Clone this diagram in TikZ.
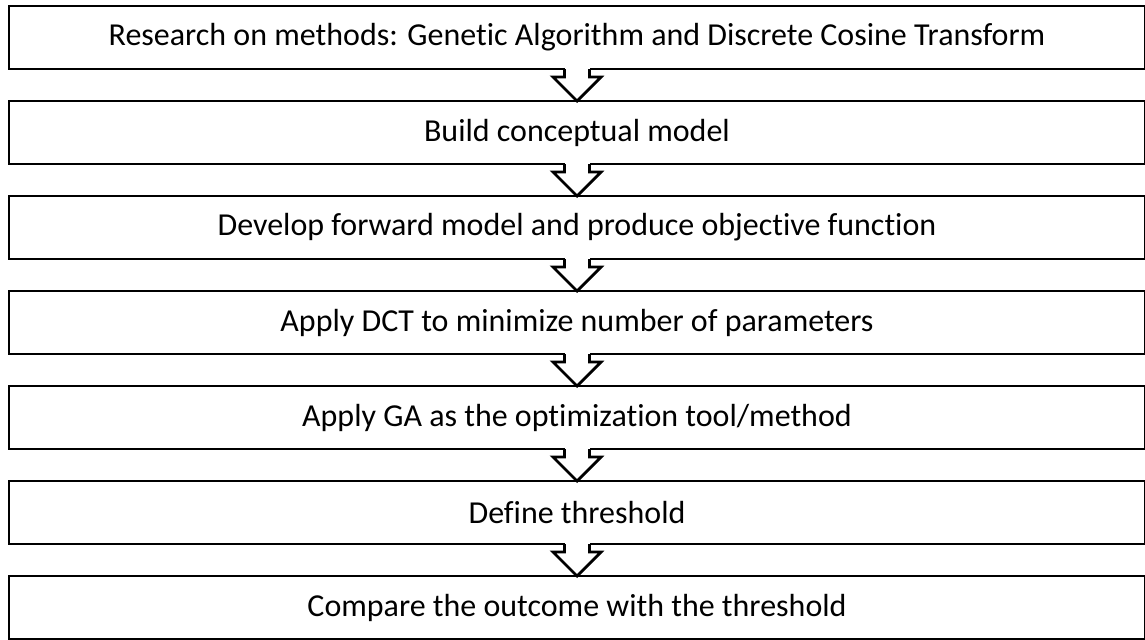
\documentclass[tikz,border=0pt]{standalone}
\usepackage{fontspec}
\setmainfont{Carlito}[Ligatures=NoCommon]
\usetikzlibrary{calc}

% hollow block arrow from the bottom of one stage to the top of the next
\newcommand{\stagearrow}[2]{%
  \fill[white] ($(#1.south)+(-0.25,0.06)$) rectangle ($(#1.south)+(0.25,-0.16)$);
  \draw[arrowline] ($(#1.south)+(-0.25,0)$) -- ($(#1.south)+(-0.25,-0.16)$)
    -- ($(#1.south)+(-0.48,-0.16)$) -- (#2.north)
    -- ($(#1.south)+(0.48,-0.16)$) -- ($(#1.south)+(0.25,-0.16)$)
    -- ($(#1.south)+(0.25,0)$);
}

\begin{document}
\begin{tikzpicture}[
  stagebox/.style={draw, line width=1.6pt, outer sep=0pt, align=center,
    minimum width=22.72cm, minimum height=1.26cm,
    font=\fontsize{18.2}{21}\selectfont},
  arrowline/.style={line width=1.6pt, fill=white}
]
\useasboundingbox (0,0) rectangle (22.9,-12.78);
\node[stagebox] (a) at (11.54,-0.75) {Research on methods: Genetic Algorithm and Discrete Cosine Transform};
\node[stagebox] (b) at (11.54,-2.65) {Build conceptual model};
\node[stagebox] (c) at (11.54,-4.55) {Develop forward model and produce objective function};
\node[stagebox] (d) at (11.54,-6.45) {Apply DCT to minimize number of parameters};
\node[stagebox] (e) at (11.54,-8.35) {Apply GA as the optimization tool/method};
\node[stagebox] (f) at (11.54,-10.25) {Define threshold};
\node[stagebox] (g) at (11.54,-12.15) {Compare the outcome with the threshold};
\stagearrow{a}{b}
\stagearrow{b}{c}
\stagearrow{c}{d}
\stagearrow{d}{e}
\stagearrow{e}{f}
\stagearrow{f}{g}
\end{tikzpicture}
\end{document}
